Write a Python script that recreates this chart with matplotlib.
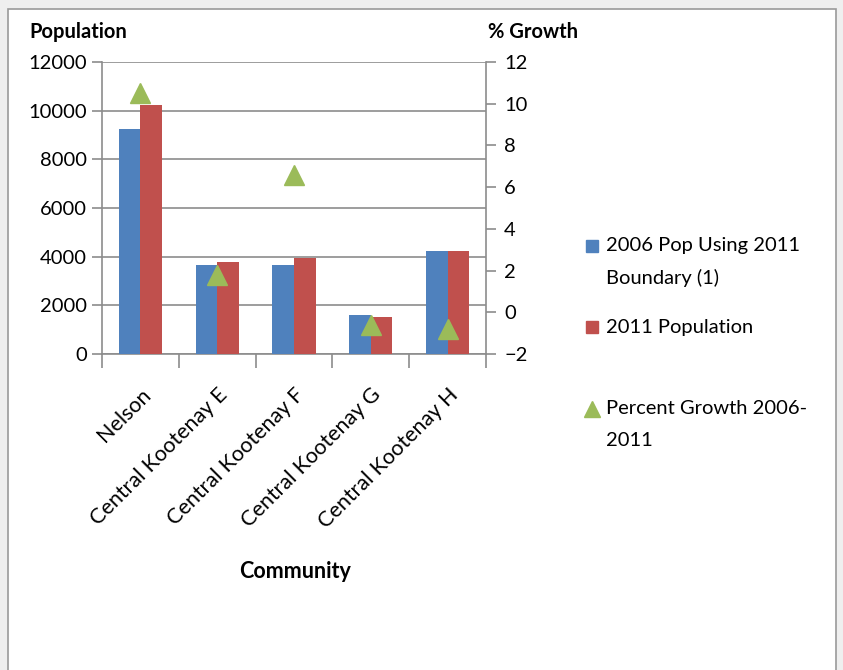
import matplotlib
matplotlib.use("Agg")
import matplotlib.pyplot as plt
from matplotlib.patches import Rectangle
from matplotlib.lines import Line2D
import numpy as np

plt.rcParams['font.family'] = ['Lato', 'DejaVu Sans']

communities = ["Nelson", "Central Kootenay E", "Central Kootenay F",
               "Central Kootenay G", "Central Kootenay H"]
pop_2006 = [9258, 3670, 3670, 1605, 4245]
pop_2011 = [10230, 3770, 3930, 1510, 4245]
growth = [10.5, 1.8, 6.6, -0.6, -0.8]

blue = "#4F81BD"
red = "#C0504D"
green = "#9BBB59"
grid_col = "#8C8C8C"
fs = 14.5

W, H = 843, 670
fig = plt.figure(figsize=(W / 100, H / 100), dpi=100)
fig.patch.set_facecolor("#EFEFEF")
fig.add_artist(Rectangle((8 / W, -0.01), 828 / W, 1 - 9 / H + 0.01,
                         transform=fig.transFigure, facecolor="white",
                         edgecolor="#9A9A9A", linewidth=1.2, zorder=0))

ax = fig.add_axes([102 / W, 1 - 354 / H, 384 / W, 292 / H])
ax2 = ax.twinx()

x = np.arange(len(communities))
w = 0.28
ax.bar(x - w / 2, pop_2006, w, color=blue, zorder=3)
ax.bar(x + w / 2, pop_2011, w, color=red, zorder=3)

ax.set_xlim(-0.5, len(communities) - 0.5)
ax.set_ylim(0, 12000)
ax.set_yticks(np.arange(0, 12001, 2000))
ax.yaxis.grid(True, color=grid_col, linewidth=1.2, zorder=0)
ax.set_axisbelow(True)

# x ticks at category boundaries, labels at centers
ax.set_xticks(np.arange(-0.5, len(communities), 1.0))
ax.set_xticklabels([])
ax.set_xticks(x, minor=True)
ax.set_xticklabels(communities, minor=True, rotation=45, ha="right",
                   rotation_mode="anchor", fontsize=15.5)
ax.tick_params(axis="x", which="major", length=10, color=grid_col, width=1.2)
ax.tick_params(axis="x", which="minor", length=0, pad=22)
ax.tick_params(axis="y", length=7, color=grid_col, width=1.2, labelsize=fs, pad=4)

for s in ["top", "right"]:
    ax.spines[s].set_visible(False)
for s in ["left", "bottom"]:
    ax.spines[s].set_color(grid_col)
    ax.spines[s].set_linewidth(1.2)

ax2.plot(x, growth, linestyle="none", marker="^", markersize=14,
         color=green, zorder=5)
ax2.set_ylim(-2, 12)
ax2.set_yticks(np.arange(-2, 13, 2))
ax2.tick_params(axis="y", length=7, color=grid_col, width=1.2, labelsize=fs, pad=6)
for s in ["top", "left", "bottom"]:
    ax2.spines[s].set_visible(False)
ax2.spines["right"].set_color(grid_col)
ax2.spines["right"].set_linewidth(1.2)

fig.text(29 / W, 1 - 32 / H, "Population", fontsize=14.5, fontweight="bold",
         va="center", ha="left")
fig.text(488 / W, 1 - 32 / H, "% Growth", fontsize=14.5, fontweight="bold",
         va="center", ha="left")
fig.text(295 / W, 1 - 572 / H, "Community", fontsize=15.5, fontweight="bold",
         va="center", ha="center")

# legend keys and text
legend_keys = [("s", 8, blue, 246), ("s", 8, red, 327), ("^", 11, green, 409)]
legend_lines = [("2006 Pop Using 2011", 246), ("Boundary (1)", 278),
                ("2011 Population", 327),
                ("Percent Growth 2006-", 409), ("2011", 440)]
for m, ms, c, yp in legend_keys:
    fig.add_artist(Line2D([592 / W], [1 - yp / H], marker=m, markersize=ms,
                          color=c, linestyle="none", transform=fig.transFigure))
for txt, yp in legend_lines:
    fig.text(606 / W, 1 - yp / H, txt, fontsize=fs, va="center", ha="left")

fig.savefig("out.png", dpi=100)
